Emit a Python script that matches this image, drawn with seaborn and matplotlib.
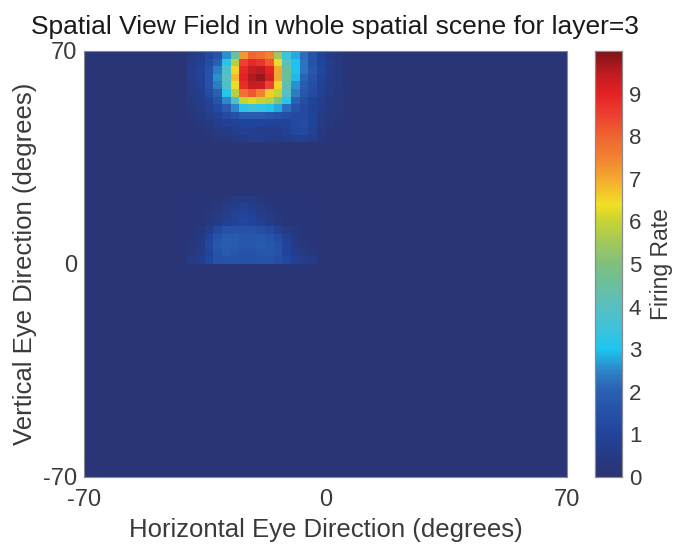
import numpy as np
import pandas as pd
import matplotlib
matplotlib.use("Agg")
import matplotlib.pyplot as plt
from matplotlib.colors import LinearSegmentedColormap
import seaborn as sns

# ---------------- data ----------------
title = "Spatial View Field in whole spatial scene for layer=3"
x_label = "Horizontal Eye Direction (degrees)"
y_label = "Vertical Eye Direction (degrees)"
cbar_label = "Firing Rate"
x_tick_labels = ["-70", "0", "70"]
y_tick_labels = ["70", "0", "-70"]
cbar_ticks = [0, 1, 2, 3, 4, 5, 6, 7, 8, 9]

cell_deg = 2.5            # grid resolution in degrees
extent = 70               # field spans -70..70 on both axes
background_rate = 0.15

# upper field (peak): x centres -38.75 .. 3.75, y centres 68.75 .. 41.25
upper_x = [-38.75, -36.25, -33.75, -31.25, -28.75, -26.25, -23.75, -21.25, -18.75,
           -16.25, -13.75, -11.25, -8.75, -6.25, -3.75, -1.25, 1.25, 3.75]
upper_y = [68.75, 66.25, 63.75, 61.25, 58.75, 56.25, 53.75, 51.25, 48.75, 46.25, 43.75, 41.25]
upper_rates = [
    [0.5, 0.7, 1.1, 1.6, 2.6, 4.5, 7.2, 8.0, 7.8, 7.5, 5.5, 3.5, 2.8, 2.2, 1.5, 0.9, 0.5, 0.4],
    [0.5, 0.8, 1.3, 2.0, 3.2, 5.8, 8.5, 8.9, 8.7, 8.2, 6.3, 4.0, 3.0, 2.3, 1.6, 1.0, 0.6, 0.4],
    [0.6, 0.9, 1.5, 2.4, 3.8, 6.5, 8.9, 9.4, 9.5, 9.0, 7.0, 4.5, 3.0, 2.3, 1.7, 1.1, 0.6, 0.4],
    [0.6, 0.9, 1.6, 2.6, 4.0, 6.8, 9.0, 9.6, 9.8, 9.2, 7.0, 4.5, 2.9, 2.1, 1.6, 1.0, 0.6, 0.4],
    [0.5, 0.8, 1.5, 2.4, 3.8, 6.3, 8.8, 9.4, 9.3, 8.5, 6.5, 4.2, 2.6, 1.9, 1.4, 0.9, 0.5, 0.4],
    [0.5, 0.7, 1.3, 2.0, 3.2, 5.8, 7.8, 8.2, 7.5, 6.6, 6.0, 4.0, 2.4, 1.7, 1.3, 0.8, 0.5, 0.3],
    [0.4, 0.6, 1.0, 1.6, 2.5, 3.8, 6.0, 6.2, 6.0, 5.8, 5.0, 3.2, 2.0, 1.4, 1.0, 0.7, 0.4, 0.3],
    [0.3, 0.5, 0.8, 1.2, 1.8, 2.5, 3.2, 3.5, 3.3, 3.1, 2.8, 2.2, 1.6, 1.2, 0.9, 0.6, 0.4, 0.3],
    [0.3, 0.4, 0.6, 0.9, 1.2, 1.5, 1.8, 1.9, 1.8, 1.7, 1.6, 1.4, 1.2, 1.2, 1.0, 0.5, 0.3, 0.3],
    [0.2, 0.3, 0.4, 0.6, 0.8, 0.9, 1.0, 1.0, 1.0, 0.9, 0.9, 1.0, 1.2, 1.3, 1.0, 0.5, 0.3, 0.2],
    [0.2, 0.2, 0.3, 0.4, 0.5, 0.7, 0.8, 0.8, 0.7, 0.6, 0.6, 0.8, 1.1, 1.2, 0.9, 0.4, 0.2, 0.2],
    [0.2, 0.2, 0.2, 0.3, 0.3, 0.4, 0.5, 0.6, 0.6, 0.5, 0.5, 0.6, 0.8, 0.8, 0.6, 0.3, 0.2, 0.2],
]

# lower field (weak): x centres -38.75 .. -3.75, y centres 21.25 .. 1.25
lower_x = [-38.75, -36.25, -33.75, -31.25, -28.75, -26.25, -23.75, -21.25, -18.75,
           -16.25, -13.75, -11.25, -8.75, -6.25, -3.75]
lower_y = [21.25, 18.75, 16.25, 13.75, 11.25, 8.75, 6.25, 3.75, 1.25]
lower_rates = [
    [0.2, 0.2, 0.2, 0.2, 0.3, 0.5, 0.5, 0.5, 0.3, 0.2, 0.2, 0.2, 0.2, 0.2, 0.2],
    [0.2, 0.2, 0.2, 0.3, 0.5, 0.7, 0.8, 0.7, 0.5, 0.3, 0.2, 0.2, 0.2, 0.2, 0.2],
    [0.2, 0.2, 0.3, 0.4, 0.7, 0.9, 1.0, 0.9, 0.7, 0.4, 0.3, 0.2, 0.2, 0.2, 0.2],
    [0.2, 0.2, 0.3, 0.5, 0.8, 1.0, 1.1, 1.0, 0.8, 0.5, 0.3, 0.2, 0.2, 0.2, 0.2],
    [0.2, 0.3, 0.6, 1.2, 1.5, 1.5, 1.5, 1.5, 1.4, 1.2, 0.8, 0.5, 0.3, 0.2, 0.2],
    [0.2, 0.4, 1.0, 1.6, 1.8, 1.8, 1.7, 1.7, 1.7, 1.6, 1.3, 0.8, 0.4, 0.2, 0.2],
    [0.3, 0.5, 1.1, 1.7, 1.9, 1.8, 1.7, 1.7, 1.8, 1.7, 1.5, 1.0, 0.5, 0.3, 0.2],
    [0.3, 0.5, 1.0, 1.6, 1.8, 1.7, 1.6, 1.6, 1.7, 1.7, 1.5, 1.0, 0.6, 0.4, 0.3],
    [0.5, 0.7, 1.1, 1.5, 1.6, 1.6, 1.5, 1.5, 1.6, 1.6, 1.4, 1.1, 0.8, 0.6, 0.5],
]

# colormap stops (value, colour)
cmap_values = [0.0, 1.0, 2.0, 2.5, 3.0, 3.5, 4.0, 4.5, 5.0, 5.5, 6.0, 6.4, 7.0, 7.5, 8.0, 8.5, 9.0, 9.5, 10.0]
cmap_colors = ["#2a3371", "#21449c", "#2a5fb2", "#2d86c8", "#1ec6ef", "#3ec2da",
               "#58bfc2", "#6abf9e", "#7fc07f", "#a2c85c", "#c5d334", "#f1e024",
               "#f4a92f", "#f18231", "#ef6530", "#ec4130", "#e52224", "#bf1b21", "#7e1518"]

# ---------------- build grid ----------------
n = int(2 * extent / cell_deg)
grid = np.full((n, n), background_rate)

def col_of(x):
    return int(round((x + extent) / cell_deg - 0.5))

def row_of(y):
    return int(round((extent - y) / cell_deg - 0.5))

for yi, y in enumerate(upper_y):
    for xi, x in enumerate(upper_x):
        grid[row_of(y), col_of(x)] = upper_rates[yi][xi]
for yi, y in enumerate(lower_y):
    for xi, x in enumerate(lower_x):
        grid[row_of(y), col_of(x)] = lower_rates[yi][xi]

x_centres = [-extent + cell_deg * (i + 0.5) for i in range(n)]
y_centres = [extent - cell_deg * (i + 0.5) for i in range(n)]
df = pd.DataFrame(grid, index=y_centres, columns=x_centres)

cmap = LinearSegmentedColormap.from_list(
    "rate", [(v / 10.0, c) for v, c in zip(cmap_values, cmap_colors)])

# ---------------- plot ----------------
sns.set_style("white")
plt.rcParams["font.family"] = ["Liberation Sans", "DejaVu Sans"]
text_col = "#3a3a3a"

fig = plt.figure(figsize=(6.74, 5.46), dpi=100)
ax = fig.add_axes([0.1246, 0.1264, 0.7165, 0.7802])
cax = fig.add_axes([0.8828, 0.1264, 0.0400, 0.7802])

sns.heatmap(df, ax=ax, cbar_ax=cax, cmap=cmap, vmin=0, vmax=10,
            xticklabels=False, yticklabels=False, rasterized=True)

ax.set_xticks([0, n / 2, n])
ax.set_xticklabels(x_tick_labels, fontsize=17, color=text_col)
ax.set_yticks([0, n / 2, n])
ax.set_yticklabels(y_tick_labels, fontsize=17, color=text_col, rotation=0)
ax.tick_params(axis="x", direction="in", length=4, width=0.6, color="#888888",
               pad=9, top=True, bottom=True)
ax.tick_params(axis="y", direction="in", length=4, width=0.6, color="#888888",
               pad=5, left=True, right=True)
for s in ax.spines.values():
    s.set_visible(True)
    s.set_color("#8a8a8a")
    s.set_linewidth(0.8)

ax.set_xlabel(x_label, fontsize=18.5, color=text_col)
ax.xaxis.set_label_coords(0.5, -0.096)
ax.set_ylabel(y_label, fontsize=18.5, color=text_col)
ax.yaxis.set_label_coords(-0.097, 0.5)
ax.set_title(title, fontsize=19, color="#1a1a1a", pad=12, x=0.52)

cax.set_yticks(cbar_ticks)
cax.set_yticklabels([str(t) for t in cbar_ticks], fontsize=16, color=text_col)
cax.tick_params(axis="y", direction="in", length=4, width=0.6, color="#888888", pad=5,
                right=True, left=False)
cax.set_ylabel(cbar_label, fontsize=16.5, color=text_col, labelpad=6)
for s in cax.spines.values():
    s.set_visible(True)
    s.set_color("#8a8a8a")
    s.set_linewidth(0.8)

fig.savefig("out.png", dpi=100)
